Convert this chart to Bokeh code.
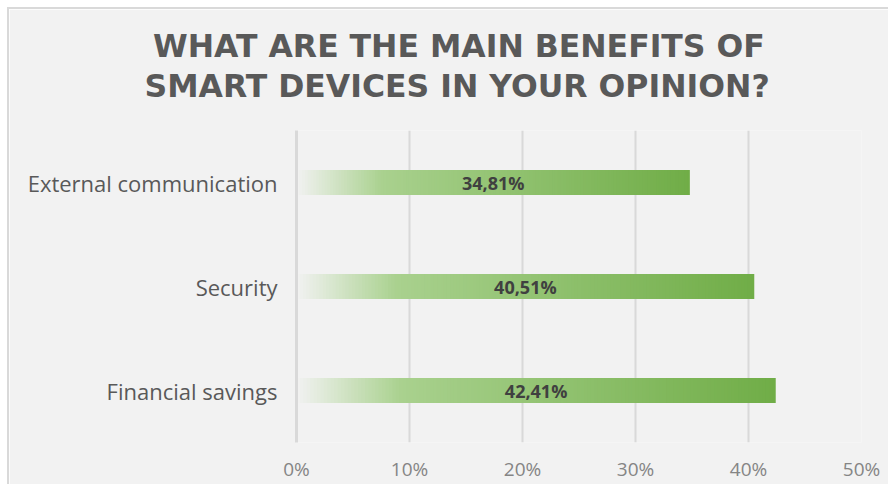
from bokeh.plotting import figure
from bokeh.models import ColumnDataSource, FactorRange, FixedTicker, Title
from bokeh.core.properties import value
from bokeh.embed import file_html
from bokeh.resources import INLINE

# ---- data ----
categories = ["Financial savings", "Security", "External communication"]  # bottom -> top
values = [42.41, 40.51, 34.81]
tick_values = [0, 10, 20, 30, 40, 50]
tick_labels = ["0%", "10%", "20%", "30%", "40%", "50%"]
title_lines = ["WHAT ARE THE MAIN BENEFITS OF", "SMART DEVICES IN YOUR OPINION?"]

BG = "#f2f2f2"
TITLE_FONT = "DejaVu Sans"
LABEL_FONT = "Open Sans"
SHIFT = 9  # white margin + grey border at top/left

p = figure(
    width=890 - SHIFT, height=486 - SHIFT,
    y_range=FactorRange(*categories, range_padding=0),
    x_range=(0, 50),
    output_backend="svg", toolbar_location=None,
    min_border_left=296 - SHIFT, min_border_right=29,
    min_border_top=130 - SHIFT, min_border_bottom=44,
)
p.styles = {"margin-top": "7px", "margin-left": "7px",
            "border-top": "2px solid #d9d9d9", "border-left": "2px solid #d9d9d9"}
p.background_fill_color = BG
p.border_fill_color = BG
p.outline_line_color = None

stops = [(0.0, (242, 242, 242)), (0.22, (169, 209, 142)), (1.0, (112, 173, 71))]


def grad(t):
    for (t0, c0), (t1, c1) in zip(stops[:-1], stops[1:]):
        if t <= t1:
            f = (t - t0) / (t1 - t0)
            c = [round(a + (b - a) * f) for a, b in zip(c0, c1)]
            return "#%02x%02x%02x" % tuple(c)
    return "#%02x%02x%02x" % stops[-1][1]


N = 140
ys, lefts, rights, cols = [], [], [], []
for cat, v in zip(categories, values):
    for j in range(N):
        ys.append(cat)
        lefts.append(v * j / N)
        rights.append(v * min(j + 1.6, N) / N)
        cols.append(grad((j + 0.5) / N))
src = ColumnDataSource(dict(y=ys, left=lefts, right=rights, color=cols))
p.hbar(y="y", left="left", right="right", height=0.24, fill_color="color",
       line_color=None, source=src)

lab_src = ColumnDataSource(dict(
    x=[v / 2 for v in values], y=categories,
    t=[("%.2f" % v).replace(".", ",") + "%" for v in values]))
p.text(x="x", y="y", text="t", source=lab_src, text_align="center",
       text_baseline="middle", text_font=value(LABEL_FONT), text_font_style="bold",
       text_font_size="18px", text_color="#404040")

p.xaxis.ticker = FixedTicker(ticks=tick_values)
p.xaxis.major_label_overrides = {t: l for t, l in zip(tick_values, tick_labels)}
p.xaxis.axis_line_color = None
p.xaxis.major_tick_line_color = None
p.xaxis.minor_tick_line_color = None
p.xaxis.major_tick_out = 0
p.xaxis.major_tick_in = 0
p.xaxis.major_label_standoff = 13
p.xaxis.major_label_text_font = LABEL_FONT
p.xaxis.major_label_text_font_size = "19px"
p.xaxis.major_label_text_color = "#858585"

p.yaxis.axis_line_color = "#d9d9d9"
p.yaxis.axis_line_width = 3
p.yaxis.major_tick_line_color = None
p.yaxis.minor_tick_line_color = None
p.yaxis.major_tick_out = 0
p.yaxis.major_tick_in = 0
p.yaxis.major_label_standoff = 19
p.yaxis.major_label_text_font = LABEL_FONT
p.yaxis.major_label_text_font_size = "22px"
p.yaxis.major_label_text_color = "#595959"

p.xgrid.grid_line_color = "#d9d9d9"
p.xgrid.grid_line_width = 2
p.ygrid.grid_line_color = None

# title: spacer, then line 2, then line 1 (first added sits closest to the frame)
p.add_layout(Title(text=" ", text_font=TITLE_FONT, text_font_size="21px",
                   standoff=0), "above")
for line, off in zip(reversed(title_lines), [-152, -143.5]):
    p.add_layout(Title(text=line, align="left", offset=off, standoff=2,
                       text_font=TITLE_FONT, text_font_style="bold",
                       text_font_size="31.5px", text_color="#595959"), "above")

open("out.html", "w").write(file_html(p, INLINE))
